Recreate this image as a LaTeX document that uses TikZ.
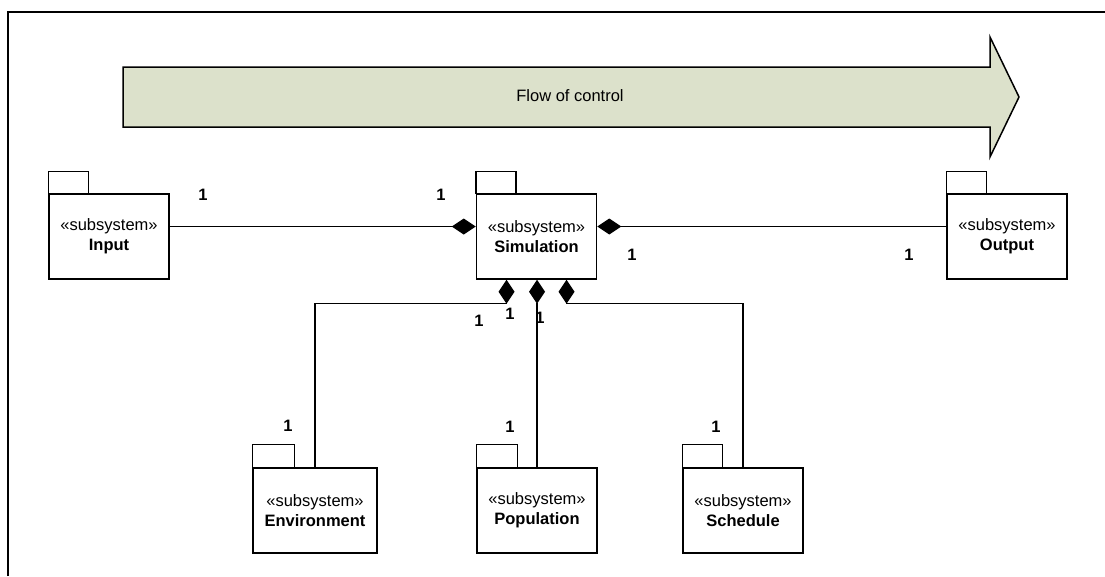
\documentclass[tikz,border=0pt]{standalone}
\usepackage{fontspec}
\setmainfont{Liberation Sans}
\usetikzlibrary{arrows.meta}
\definecolor{flowfill}{HTML}{DCE1CB}
\begin{document}
\begin{tikzpicture}[x=1pt,y=-1pt,
  txt/.style={font=\fontsize{16.5}{20}\selectfont},
  pkg/.style={draw, line width=1.5pt, fill=white, minimum width=120pt,
    minimum height=85pt, align=center, inner sep=0pt, txt},
  tabbox/.style={draw, line width=1.5pt, fill=white},
  conn/.style={line width=1.3pt},
  compend/.style={conn, -{Diamond[length=24pt,width=16pt]}},
  compstart/.style={conn, {Diamond[length=24pt,width=16pt]}-},
  mult/.style={txt, font=\bfseries\fontsize{16.5}{20}\selectfont, inner sep=0pt}]

\useasboundingbox (0,0) rectangle (1105,576);

% frame
\draw[line width=1.5pt] (8,576) -- (8,12) -- (1105,12);

% flow of control arrow
\draw[line width=1.5pt, fill=flowfill, line join=miter]
  (123,67) -- (990,67) -- (990,37) -- (1019,97) -- (990,157)
  -- (990,127) -- (123,127) -- cycle;
\node[txt] (flow) at (570,96) {Flow of control};

% packages
\node[pkg] (input) at (109,236.5) {«subsystem»\\\textbf{Input}};
\draw[tabbox] (input.north west) rectangle ++(40pt,22pt);

\node[pkg] (sim) at (536.5,236.5) {«subsystem»\\\textbf{Simulation}};
\draw[tabbox] (sim.north west) rectangle ++(40pt,22pt);

\node[pkg] (output) at (1007,236.5) {«subsystem»\\\textbf{Output}};
\draw[tabbox] (output.north west) rectangle ++(40pt,22pt);

\node[pkg, minimum width=124pt] (env) at (315,510.5) {«subsystem»\\\textbf{Environment}};
\draw[tabbox] (env.north west) rectangle ++(42pt,23pt);

\node[pkg] (pop) at (537,510.5) {«subsystem»\\\textbf{Population}};
\draw[tabbox] (pop.north west) rectangle ++(41pt,23pt);

\node[pkg] (sched) at (743,510.5) {«subsystem»\\\textbf{Schedule}};
\draw[tabbox] (sched.north west) rectangle ++(40pt,23pt);

% composition connectors
\draw[compend] ([yshift=10pt]input.east) -- ([yshift=10pt]sim.west);
\draw[compstart] ([yshift=10pt]sim.east) -- ([yshift=10pt]output.west);
\draw[compend] (env.north) |- ([xshift=-30pt,yshift=-24pt]sim.south)
  -- ([xshift=-30pt]sim.south);
\draw[compend] (pop.north) -- (pop.north |- sim.south);
\draw[compend] (sched.north) |- ([xshift=30pt,yshift=-24pt]sim.south)
  -- ([xshift=30pt]sim.south);

% multiplicities
\node[mult] (m1) at (203,195) {1};
\node[mult] (m2) at (441,195) {1};
\node[mult] (m3) at (632,255) {1};
\node[mult] (m4) at (909,255) {1};
\node[mult] (m5) at (479,321) {1};
\node[mult] (m6) at (510,314) {1};
\node[mult] (m7) at (540,318) {1};
\node[mult] (m8) at (288,426) {1};
\node[mult] (m9) at (510,427) {1};
\node[mult] (m10) at (716,427) {1};
\end{tikzpicture}
\end{document}
